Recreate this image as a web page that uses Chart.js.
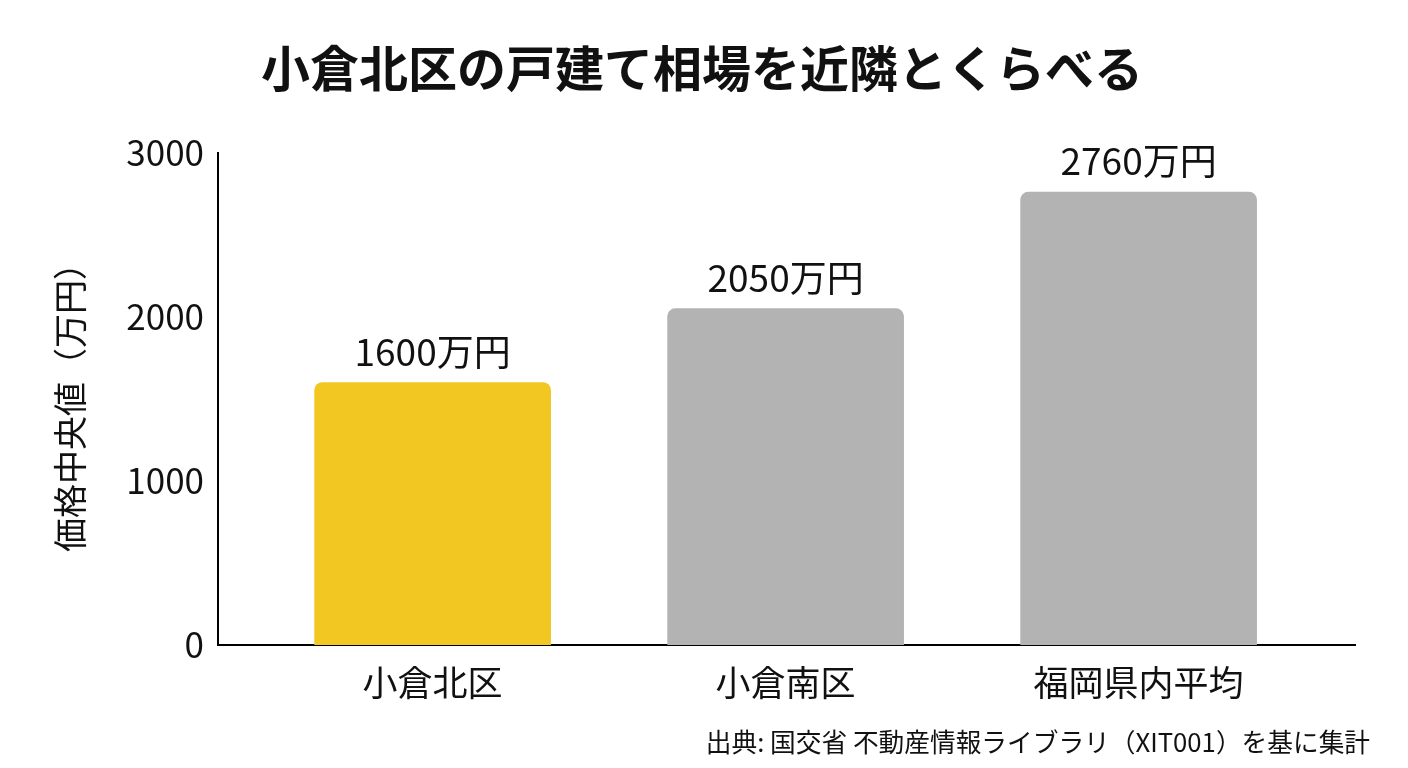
<!DOCTYPE html>
<html lang="ja">
<head>
<meta charset="utf-8">
<script src="https://cdn.jsdelivr.net/npm/chart.js@4.4.1/dist/chart.umd.min.js"></script>
<style>
html, body { margin: 0; padding: 0; background: #fff; }
#c { display: block; }
</style>
</head>
<body>
<canvas id="c" width="1408" height="768"></canvas>
<script>
var areas = ['小倉北区', '小倉南区', '福岡県内平均'];
var prices = [1600, 2050, 2760];
var barColors = ['#F2C722', '#B3B3B3', '#B3B3B3'];
var yTicks = [0, 1000, 2000, 3000];
var unit = '万円';
var titleText = '小倉北区の戸建て相場を近隣とくらべる';
var yTitle = '価格中央値（万円）';
var sourceText = '出典: 国交省 不動産情報ライブラリ（XIT001）を基に集計';

var FONT = '"Noto Sans CJK JP", "Noto Sans", sans-serif';
var INK = '#111111';

// value text above each bar, placed from the bar elements
var valueLabels = {
    id: 'valueLabels',
    afterDatasetsDraw: function(chart) {
        var ctx = chart.ctx;
        var meta = chart.getDatasetMeta(0);
        ctx.save();
        ctx.font = '37px ' + FONT;
        ctx.fillStyle = INK;
        ctx.textAlign = 'center';
        ctx.textBaseline = 'middle';
        meta.data.forEach(function(bar, i) {
            ctx.fillText(prices[i] + unit, bar.x, bar.y - 31);
        });
        ctx.restore();
    }
};

// source note, bottom right
var sourceNote = {
    id: 'sourceNote',
    afterDraw: function(chart) {
        var ctx = chart.ctx;
        ctx.save();
        ctx.font = '25.7px ' + FONT;
        ctx.fillStyle = INK;
        ctx.textAlign = 'right';
        ctx.textBaseline = 'middle';
        ctx.fillText(sourceText, 1370, 742);
        ctx.restore();
    }
};

var ctx = document.getElementById('c').getContext('2d');
var myChart = new Chart(ctx, {
    type: 'bar',
    data: {
        datasets: [{
            data: prices.map(function(v, i) { return { x: i, y: v }; }),
            backgroundColor: barColors,
            borderRadius: 8,
            borderSkipped: 'start',
            barThickness: 236
        }]
    },
    options: {
        responsive: false,
        devicePixelRatio: 1,
        animation: false,
        layout: { padding: { left: 49, right: 53, top: 0, bottom: 0 } },
        plugins: {
            legend: { display: false },
            tooltip: { enabled: false },
            title: {
                display: true,
                text: titleText,
                color: INK,
                font: { family: FONT, size: 49, weight: 'bold' },
                padding: { top: 39, bottom: 55 }
            }
        },
        scales: {
            x: {
                type: 'linear',
                offset: false,
                min: -0.608,
                max: 2.613,
                afterBuildTicks: function(scale) {
                    scale.ticks = areas.map(function(a, i) { return { value: i }; });
                },
                afterFit: function(scale) { scale.height = 123; },
                grid: { display: false, drawTicks: false, offset: false },
                border: { display: true, color: '#000', width: 2 },
                ticks: {
                    color: INK,
                    font: { family: FONT, size: 35 },
                    padding: 17,
                    maxRotation: 0,
                    autoSkip: false,
                    callback: function(v) { return areas[v]; }
                }
            },
            y: {
                min: 0,
                max: 3000,
                afterBuildTicks: function(scale) {
                    scale.ticks = yTicks.map(function(v) { return { value: v }; });
                },
                afterFit: function(scale) { scale.width = 169; },
                grid: { display: false, drawTicks: false },
                border: { display: true, color: '#000', width: 2 },
                ticks: {
                    color: INK,
                    font: { family: FONT, size: 35 },
                    padding: 14,
                    callback: function(v) { return String(v); }
                },
                title: {
                    display: true,
                    text: yTitle,
                    color: INK,
                    font: { family: FONT, size: 34 },
                    padding: { top: 1, bottom: 0 }
                }
            }
        }
    },
    plugins: [valueLabels, sourceNote]
});
</script>
</body>
</html>
